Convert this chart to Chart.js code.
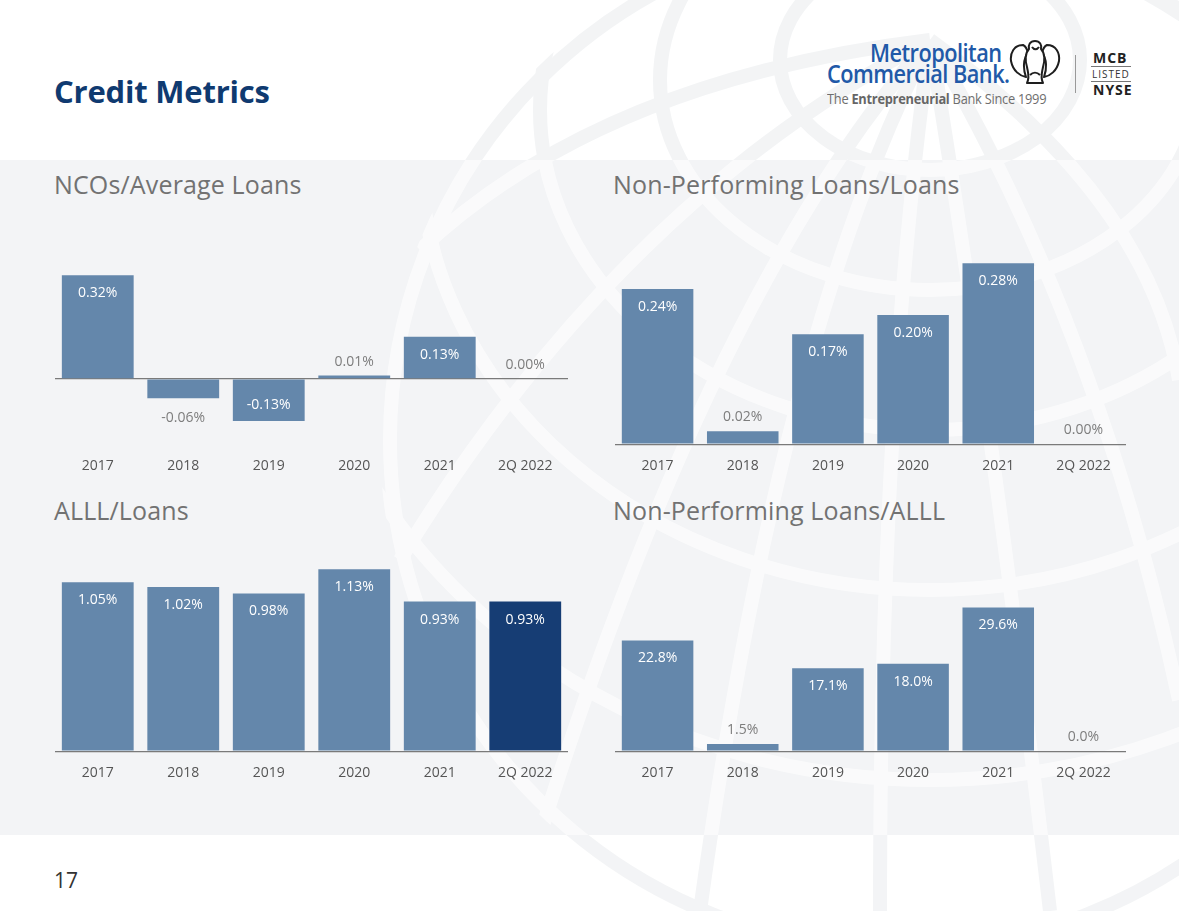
<!DOCTYPE html>
<html>
<head>
<meta charset="utf-8">
<script src="https://cdn.jsdelivr.net/npm/chart.js@4.4.1/dist/chart.umd.min.js"></script>
<style>
  html, body { margin: 0; padding: 0; }
  body { width: 1179px; height: 911px; position: relative; overflow: hidden; background: #ffffff; font-family: "Open Sans", "Noto Sans", sans-serif; }
  #panel { position: absolute; left: 0; top: 160px; width: 1179px; height: 675px; background: #f3f4f6; }
  svg.globe { position: absolute; left: 0; top: 0; }
  .abs { position: absolute; white-space: nowrap; }
  .title { left: 54px; top: 71px; font-size: 31px; line-height: 40px; font-weight: 700; color: #0f3a70; letter-spacing: -0.2px; }
  .sub { font-size: 25px; line-height: 30px; color: #727272; letter-spacing: 0.15px; }
  .chartbox { position: absolute; }
  .pagenum { left: 54px; top: 866px; font-size: 21px; line-height: 28px; color: #333; }
  .logo1 { font-size: 25px; font-weight: 600; color: #2159a8; letter-spacing: -0.6px; line-height: 22px; transform: scaleX(0.87); transform-origin: 0 0; }
  .tag { font-size: 15px; color: #6e6e6e; letter-spacing: -0.3px; line-height: 18px; transform: scaleX(0.855); transform-origin: 0 0; }
  .tag b { font-weight: 700; color: #666; }
  .nyse { font-weight: 700; color: #222; font-size: 14px; letter-spacing: 1px; line-height: 16px; }
  .listed { color: #333; font-size: 10px; letter-spacing: 1px; line-height: 12px; }
</style>
</head>
<body>
<div id="panel"></div>

<svg class="globe" width="1179" height="911" viewBox="0 0 1179 911">
  <defs>
    <clipPath id="grayClip"><rect x="0" y="160" width="1179" height="675"/></clipPath>
    <clipPath id="whiteClip"><rect x="0" y="0" width="1179" height="160"/><rect x="0" y="835" width="1179" height="76"/></clipPath>
    <clipPath id="sphere"><circle cx="900" cy="440" r="520"/></clipPath>
    <g id="globeLines" fill="none" clip-path="url(#sphere)">
      <circle cx="900" cy="440" r="510"/>
      <ellipse cx="930" cy="60" rx="150" ry="110"/>
      <ellipse cx="930" cy="80" rx="270" ry="210"/>
      <ellipse cx="930" cy="110" rx="390" ry="320"/>
      <ellipse cx="930" cy="150" rx="510" ry="440"/>
      <ellipse cx="930" cy="200" rx="640" ry="580"/>
      <path d="M930 40 Q 700 300 520 900"/>
      <path d="M930 40 Q 780 330 700 911"/>
      <path d="M930 40 Q 880 400 880 911"/>
      <path d="M930 40 Q 990 400 1050 911"/>
      <path d="M930 40 Q 1100 330 1179 700"/>
      <path d="M930 40 Q 620 200 400 560"/>
      <path d="M930 40 Q 1150 200 1179 380"/>
      <path d="M930 40 Q 600 80 420 250"/>
    </g>
  </defs>
  <g clip-path="url(#grayClip)" stroke="#ffffff" stroke-width="14" opacity="0.6">
    <use href="#globeLines"/>
  </g>
  <g clip-path="url(#whiteClip)" stroke="#eef0f2" stroke-width="14" opacity="0.7">
    <use href="#globeLines"/>
  </g>
</svg>

<div class="abs title">Credit Metrics</div>

<!-- Logo -->
<div class="abs logo1" style="left:870px; top:41px;">Metropolitan</div>
<div class="abs logo1" style="left:827px; top:62px;">Commercial Bank.</div>
<div class="abs tag" style="left:827px; top:89px;">The <b>Entrepreneurial</b> Bank Since 1999</div>
<svg class="abs" style="left:1009px; top:37px;" width="52" height="50" viewBox="0 0 52 50">
  <g fill="#ffffff" stroke="#1e1e1e" stroke-width="2" stroke-linejoin="round">
    <path d="M14 8 C5 8 1 16 2 24 C4 34 11 39 17 40 C14 32 14 22 19 16 C18 11 16 9 14 8 Z"/>
    <path d="M38 8 C47 8 51 16 50 24 C48 34 41 39 35 40 C38 32 38 22 33 16 C34 11 36 9 38 8 Z"/>
    <path d="M26 4 C21 4 19 8 20 12 C16 16 16 24 18 30 C19 36 21 40 18 46 H34 C31 40 33 36 34 30 C36 24 36 16 32 12 C33 8 31 4 26 4 Z"/>
    <path d="M23 10 C25 13 28 13 30 10" fill="none"/>
    <path d="M21 38 C24 35 28 35 31 38" fill="none"/>
  </g>
</svg>
<div class="abs" style="left:1075px; top:55px; width:1px; height:38px; background:#999;"></div>
<div class="abs nyse" style="left:1093px; top:50px;">MCB</div>
<div class="abs" style="left:1091px; top:66px; width:40px; height:1px; background:#777;"></div>
<div class="abs listed" style="left:1092px; top:68px;">LISTED</div>
<div class="abs" style="left:1091px; top:81px; width:40px; height:1px; background:#777;"></div>
<div class="abs nyse" style="left:1093px; top:82px;">NYSE</div>

<div class="abs sub" style="left:54px; top:169px;">NCOs/Average Loans</div>
<div class="abs sub" style="left:613px; top:169px;">Non-Performing Loans/Loans</div>
<div class="abs sub" style="left:54px; top:495px;">ALLL/Loans</div>
<div class="abs sub" style="left:613px; top:495px;">Non-Performing Loans/ALLL</div>

<div class="chartbox" style="left:55px; top:230px; width:513px; height:257px;"><canvas id="c1"></canvas></div>
<div class="chartbox" style="left:615px; top:230px; width:511px; height:257px;"><canvas id="c2"></canvas></div>
<div class="chartbox" style="left:55px; top:540px; width:513px; height:254px;"><canvas id="c3"></canvas></div>
<div class="chartbox" style="left:615px; top:540px; width:511px; height:254px;"><canvas id="c4"></canvas></div>

<div class="abs pagenum">17</div>

<script>
// ---------------- DATA ----------------
const categories = ["2017", "2018", "2019", "2020", "2021", "2Q 2022"];
const ncoAvgLoans = [0.32, -0.06, -0.13, 0.01, 0.13, 0.00];
const nplLoans = [0.24, 0.02, 0.17, 0.20, 0.28, 0.00];
const alllLoans = [1.05, 1.02, 0.98, 1.13, 0.93, 0.93];
const nplAlll = [22.8, 1.5, 17.1, 18.0, 29.6, 0.0];

// ---------------- STYLE ----------------
const BAR = "#6487ab";
const BAR_DARK = "#163d74";
const FONT = '"Open Sans", "Noto Sans", sans-serif';

const valueLabels = {
  id: "valueLabels",
  afterDatasetsDraw(chart, args, opts) {
    const ctx = chart.ctx;
    const meta = chart.getDatasetMeta(0);
    const data = chart.data.datasets[0].data;
    ctx.save();
    ctx.font = "14px " + FONT;
    ctx.textAlign = "center";
    ctx.textBaseline = "middle";
    meta.data.forEach((bar, i) => {
      const v = data[i];
      const h = Math.abs(bar.base - bar.y);
      const text = v.toFixed(opts.decimals) + "%";
      let y, color;
      if (h > 30) {
        color = "#ffffff";
        y = v >= 0 ? bar.y + 18 : bar.y - 16;
      } else {
        color = "#7d7d7d";
        y = v >= 0 ? bar.y - 14 : bar.y + 20;
      }
      ctx.fillStyle = color;
      ctx.fillText(text, bar.x, y);
    });
    ctx.restore();
  }
};

function makeChart(id, values, min, max, decimals, colors) {
  return new Chart(document.getElementById(id), {
    type: "bar",
    data: {
      labels: categories,
      datasets: [{
        data: values,
        backgroundColor: colors,
        borderWidth: 0,
        barPercentage: 0.84,
        categoryPercentage: 1.0
      }]
    },
    options: {
      responsive: true,
      maintainAspectRatio: false,
      animation: false,
      layout: { padding: 0 },
      plugins: {
        legend: { display: false },
        tooltip: { enabled: false },
        valueLabels: { decimals: decimals }
      },
      scales: {
        x: {
          grid: { display: false, drawTicks: false },
          border: { display: false },
          ticks: { color: "#555555", font: { size: 14, family: FONT }, padding: 13, maxRotation: 0 }
        },
        y: {
          min: min,
          max: max,
          afterBuildTicks(scale) { scale.ticks = [{ value: 0 }]; },
          ticks: { display: false },
          border: { display: false },
          grid: { color: "#7a7a7a", lineWidth: 1.2, drawTicks: false }
        }
      }
    },
    plugins: [valueLabels]
  });
}

makeChart("c1", ncoAvgLoans, -0.2019, 0.4596, 2, BAR);
makeChart("c2", nplLoans, 0, 0.3313, 2, BAR);
makeChart("c3", alllLoans, 0, 1.3125, 2, alllLoans.map((v, i) => i === alllLoans.length - 1 ? BAR_DARK : BAR));
makeChart("c4", nplAlll, 0, 43.48, 1, BAR);
</script>
</body>
</html>
